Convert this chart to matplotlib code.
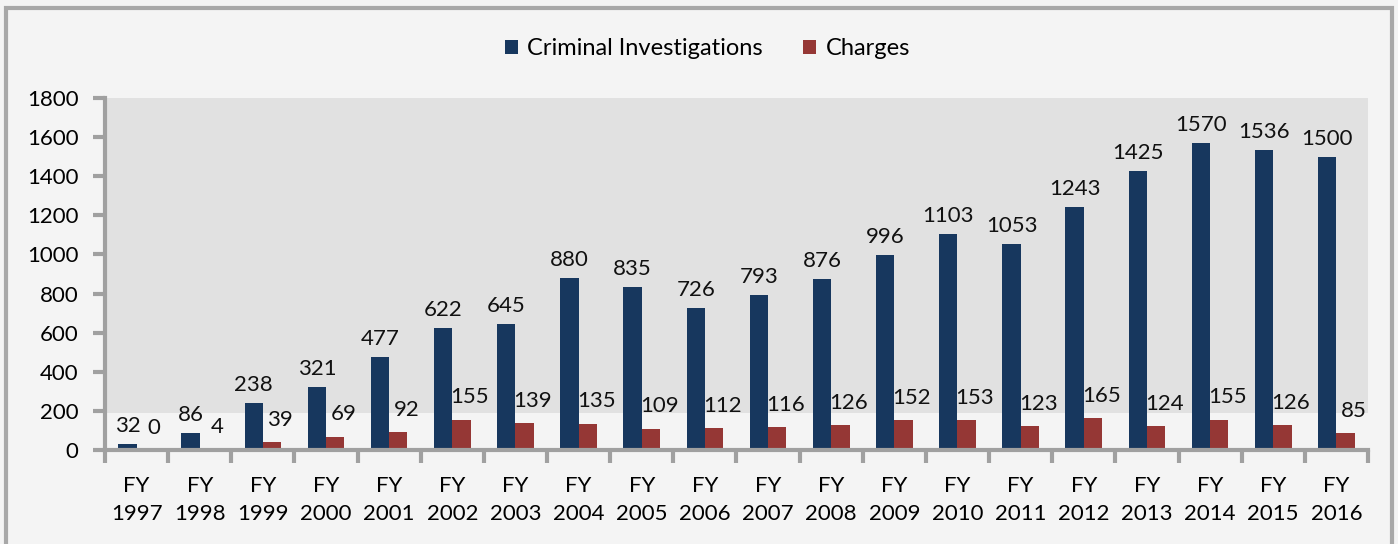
import matplotlib.pyplot as plt
import matplotlib.patches as patches
import numpy as np

years = ['1997', '1998', '1999', '2000', '2001', '2002', '2003', '2004', '2005', '2006',
         '2007', '2008', '2009', '2010', '2011', '2012', '2013', '2014', '2015', '2016']
investigations = [32, 86, 238, 321, 477, 622, 645, 880, 835, 726,
                  793, 876, 996, 1103, 1053, 1243, 1425, 1570, 1536, 1500]
charges = [0, 4, 39, 69, 92, 155, 139, 135, 109, 112,
           116, 126, 152, 153, 123, 165, 124, 155, 126, 85]

navy = '#17375e'
red = '#953735'
axis_gray = '#a0a0a0'

plt.rcParams['font.family'] = ['Lato', 'DejaVu Sans']

fig = plt.figure(figsize=(13.98, 5.44), dpi=100, facecolor='#f4f4f4')
fig.patches.append(patches.Rectangle((0.004, -0.01), 0.992, 0.995, transform=fig.transFigure,
                                     fill=False, edgecolor='#a8a8a8', linewidth=3))
ax = fig.add_axes([0.0751, 0.1728, 0.9034, 0.6471])
ax.set_facecolor('#f4f4f4')
ax.axhspan(190, 1800, color='#e1e1e1', zorder=0, lw=0)

x = np.arange(len(years))
w = 0.29
b1 = ax.bar(x - w / 2, investigations, w, color=navy, label='Criminal Investigations', zorder=2)
b2 = ax.bar(x + w / 2, charges, w, color=red, label='Charges', zorder=2)

for i in range(len(years)):
    ax.annotate(str(investigations[i]), (x[i] - w / 2, investigations[i]), xytext=(0, 13),
                textcoords='offset points', ha='center', va='center', fontsize=16, color='#111111')
    ax.annotate(str(charges[i]), (x[i] + w / 2, charges[i]), xytext=(6, 16),
                textcoords='offset points', ha='center', va='center', fontsize=16, color='#111111')

ax.set_xlim(-0.5, len(years) - 0.5)
ax.set_ylim(0, 1800)
ax.set_yticks(range(0, 1801, 200))
ax.set_xticks(x)
ax.set_xticklabels(['FY\n' + y for y in years], fontsize=16, linespacing=1.45)
ax.set_xticks(np.arange(-0.5, len(years), 1.0), minor=True)
ax.tick_params(axis='x', which='major', length=0, pad=19)
ax.tick_params(axis='x', which='minor', length=9, width=3, color=axis_gray, direction='out')
ax.tick_params(axis='y', length=9, width=3, color=axis_gray, pad=10, labelsize=16)

for s in ['top', 'right']:
    ax.spines[s].set_visible(False)
for s in ['left', 'bottom']:
    ax.spines[s].set_color(axis_gray)
    ax.spines[s].set_linewidth(3)

fig.legend(handles=[b1, b2], loc='center', bbox_to_anchor=(0.506, 0.91), ncol=2, frameon=False,
           fontsize=17, handlelength=0.55, handleheight=0.55, handletextpad=0.4, columnspacing=1.7)

fig.savefig('out.png', dpi=100, facecolor=fig.get_facecolor())
